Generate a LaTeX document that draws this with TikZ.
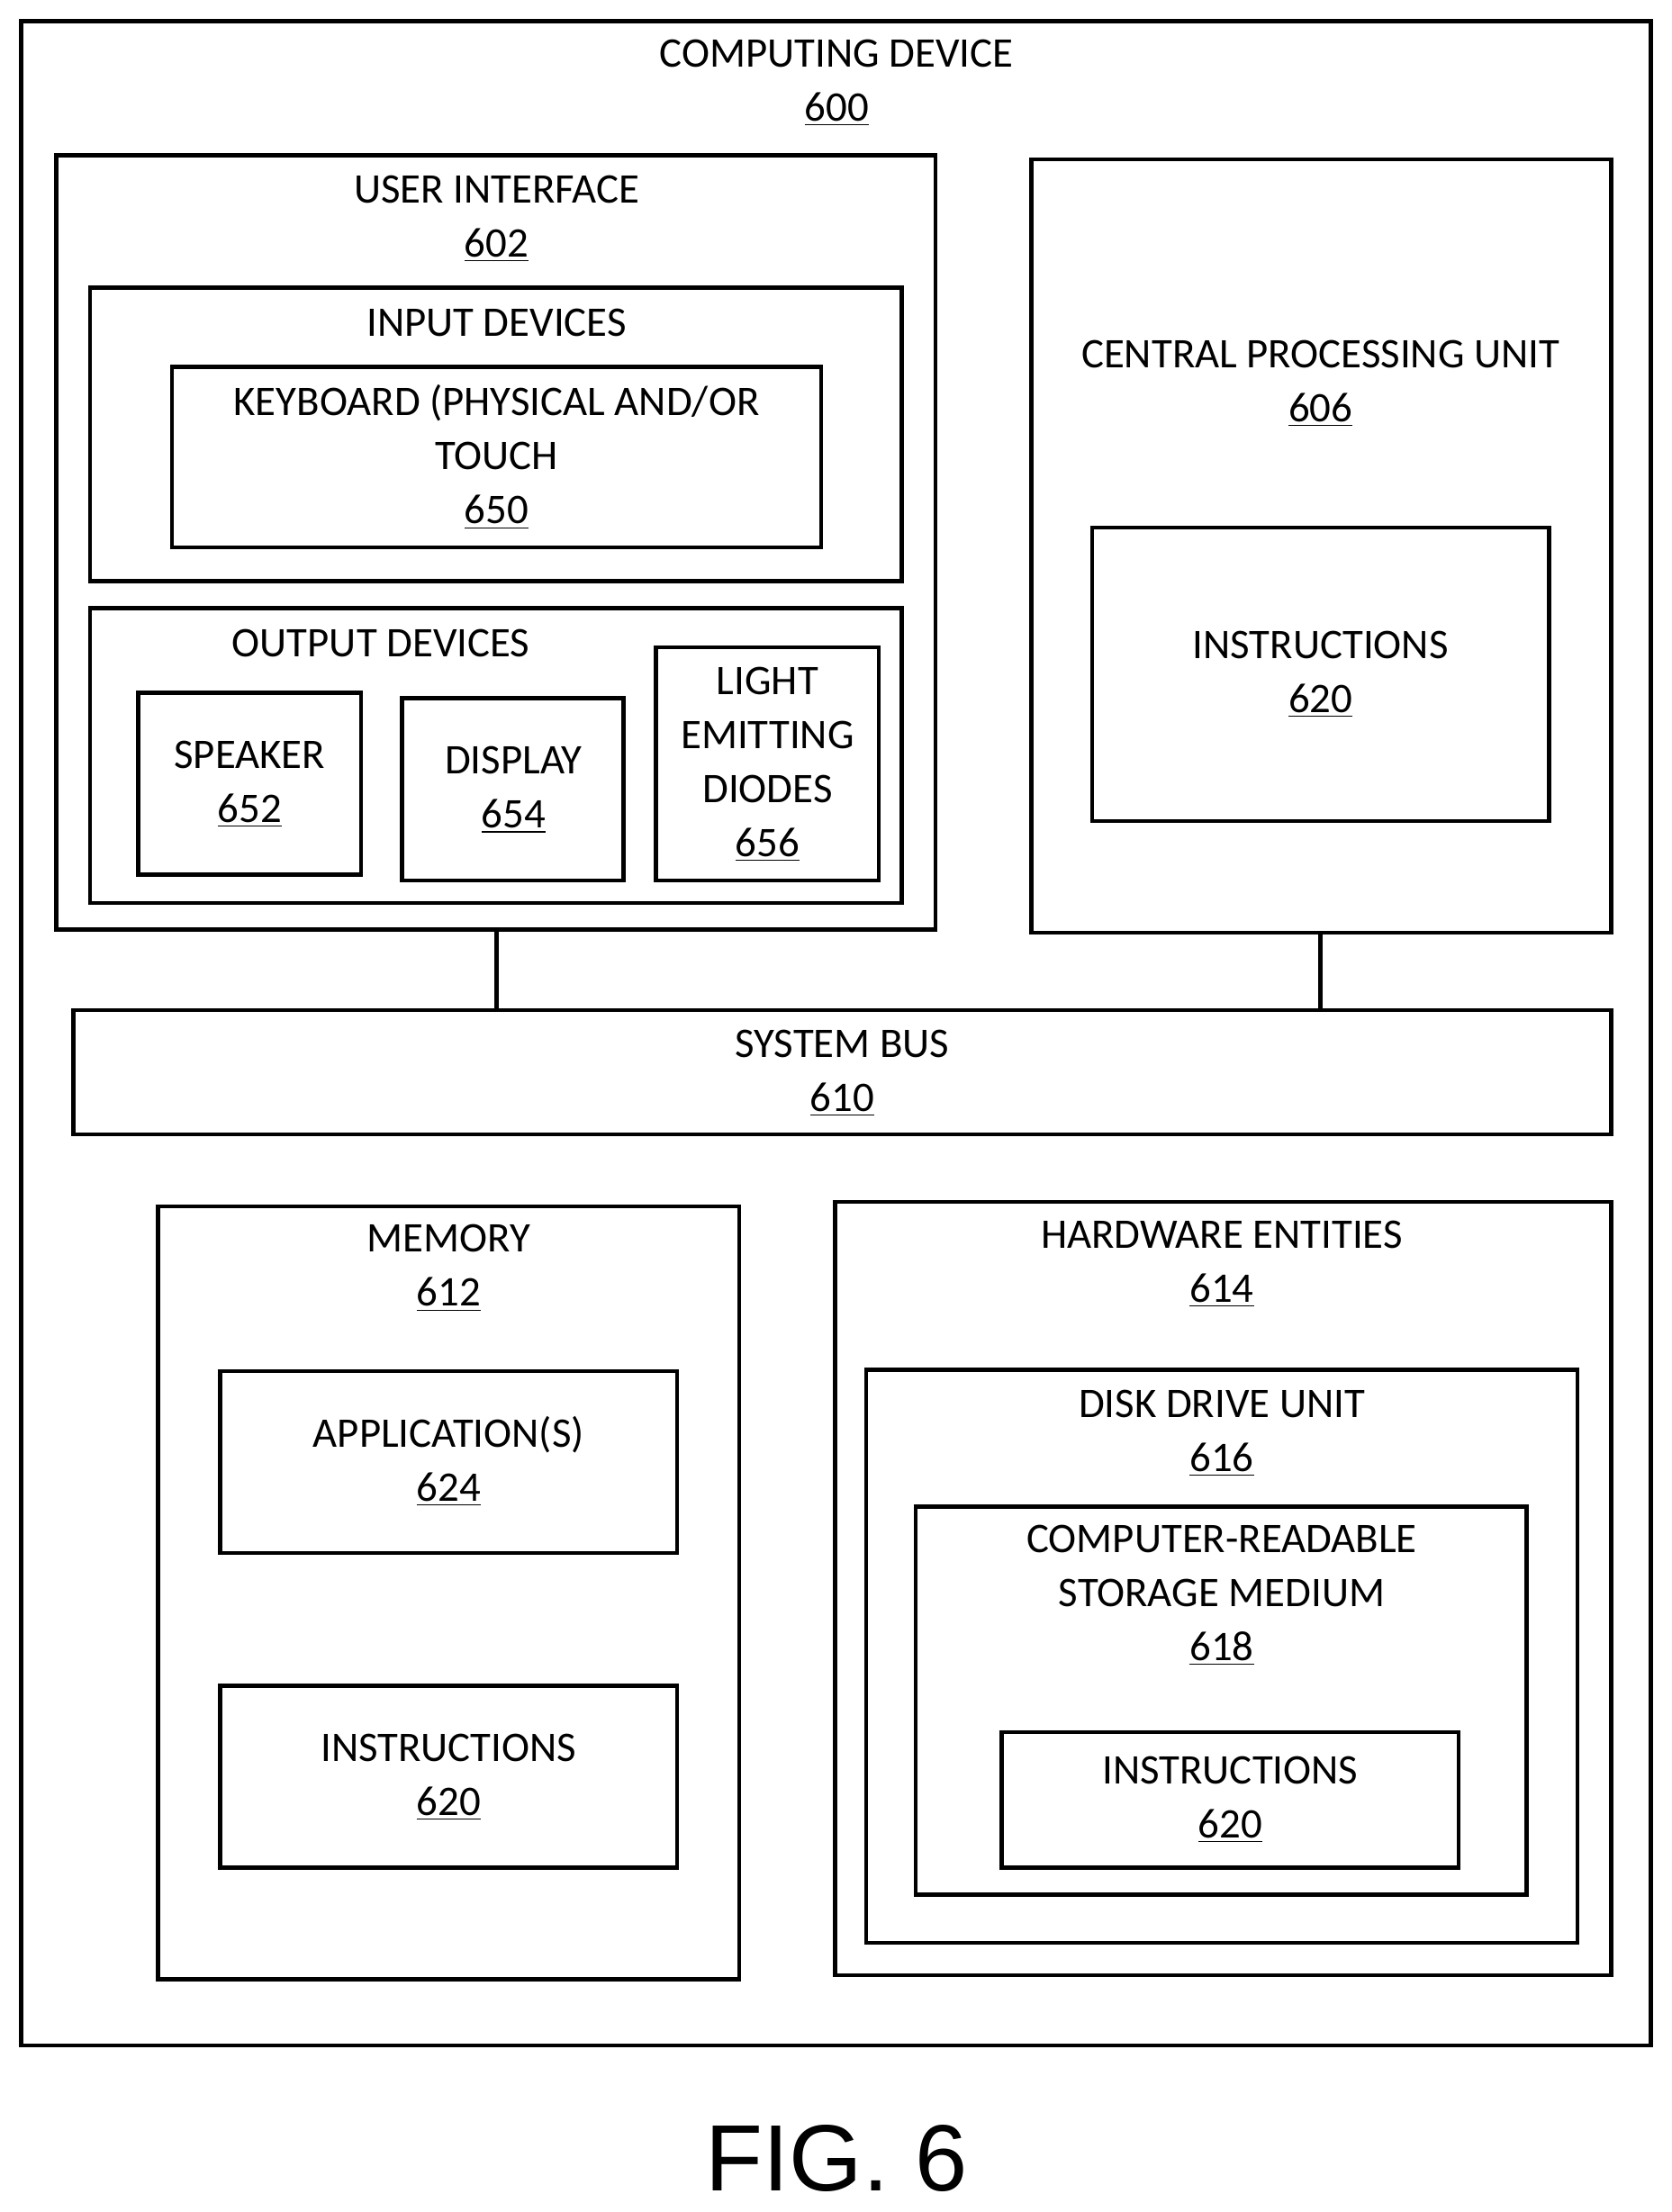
\documentclass[tikz,border=0pt]{standalone}
\usepackage{fontspec}
\setmainfont{Carlito}
\newfontfamily\figfont{Liberation Sans}
\usetikzlibrary{fit}
\tikzset{
  box/.style={draw, line width=1.6pt, inner sep=0pt},
  lbl/.style={align=center, font=\fontsize{17}{21.8}\selectfont, inner sep=0pt},
}
\newcommand{\num}[1]{\underline{#1}}
\begin{document}
\begin{tikzpicture}[x=0.02cm,y=-0.02cm]
\useasboundingbox (0,0) rectangle (1185,1568);
% boxes
\node[box, fit={(15,15)(1170,1450)}] (dev) {};
\node[box, fit={(40,110)(663,659)}] (ui) {};
\node[box, fit={(64,204)(639,412)}] (in) {};
\node[box, fit={(122,260)(582,388)}] (kbd) {};
\node[box, fit={(64,431)(639,640)}] (out) {};
\node[box, fit={(98,491)(256,620)}] (spk) {};
\node[box, fit={(285,495)(442,624)}] (disp) {};
\node[box, fit={(465,459)(623,624)}] (led) {};
\node[box, fit={(731,113)(1142,661)}] (cpu) {};
\node[box, fit={(774,374)(1098,582)}] (cpuins) {};
\node[box, fit={(52,716)(1142,804)}] (bus) {};
\node[box, fit={(112,855)(524,1403)}] (mem) {};
\node[box, fit={(156,972)(480,1101)}] (app) {};
\node[box, fit={(156,1195)(480,1324)}] (memins) {};
\node[box, fit={(592,852)(1142,1400)}] (hw) {};
\node[box, fit={(614,971)(1118,1377)}] (disk) {};
\node[box, fit={(649,1068)(1082,1343)}] (crsm) {};
\node[box, fit={(710,1228)(1034,1324)}] (crsmins) {};
% connectors
\coordinate (b1) at (352,716);
\coordinate (b2) at (936,716);
\draw[line width=1.6pt] (ui.south -| b1) -- (b1);
\draw[line width=1.6pt] (cpu.south -| b2) -- (b2);
% labels
\node[lbl] at (593,59) {COMPUTING DEVICE\\\num{600}};
\node[lbl] at (352,155) {USER INTERFACE\\\num{602}};
\node[lbl] at (352,229) {INPUT DEVICES};
\node[lbl] at (352,324) {KEYBOARD (PHYSICAL AND/OR\\TOUCH\\\num{650}};
\node[lbl] at (270,456) {OUTPUT DEVICES};
\node[lbl] at (177,556) {SPEAKER\\\num{652}};
\node[lbl] at (364,560) {DISPLAY\\\num{654}};
\node[lbl] at (544,542) {LIGHT\\EMITTING\\DIODES\\\num{656}};
\node[lbl] at (936,272) {CENTRAL PROCESSING UNIT\\\num{606}};
\node[lbl] at (936,478) {INSTRUCTIONS\\\num{620}};
\node[lbl] at (597,761) {SYSTEM BUS\\\num{610}};
\node[lbl] at (318,899) {MEMORY\\\num{612}};
\node[lbl] at (318,1036) {APPLICATION(S)\\\num{624}};
\node[lbl] at (318,1260) {INSTRUCTIONS\\\num{620}};
\node[lbl] at (866,896) {HARDWARE ENTITIES\\\num{614}};
\node[lbl] at (866,1016) {DISK DRIVE UNIT\\\num{616}};
\node[lbl] at (866,1131) {COMPUTER-READABLE\\STORAGE MEDIUM\\\num{618}};
\node[lbl] at (872,1276) {INSTRUCTIONS\\\num{620}};
\node[inner sep=0pt, font=\figfont\fontsize{38}{40}\selectfont] (fig) at (593,1530) {FIG. 6};
\end{tikzpicture}
\end{document}
